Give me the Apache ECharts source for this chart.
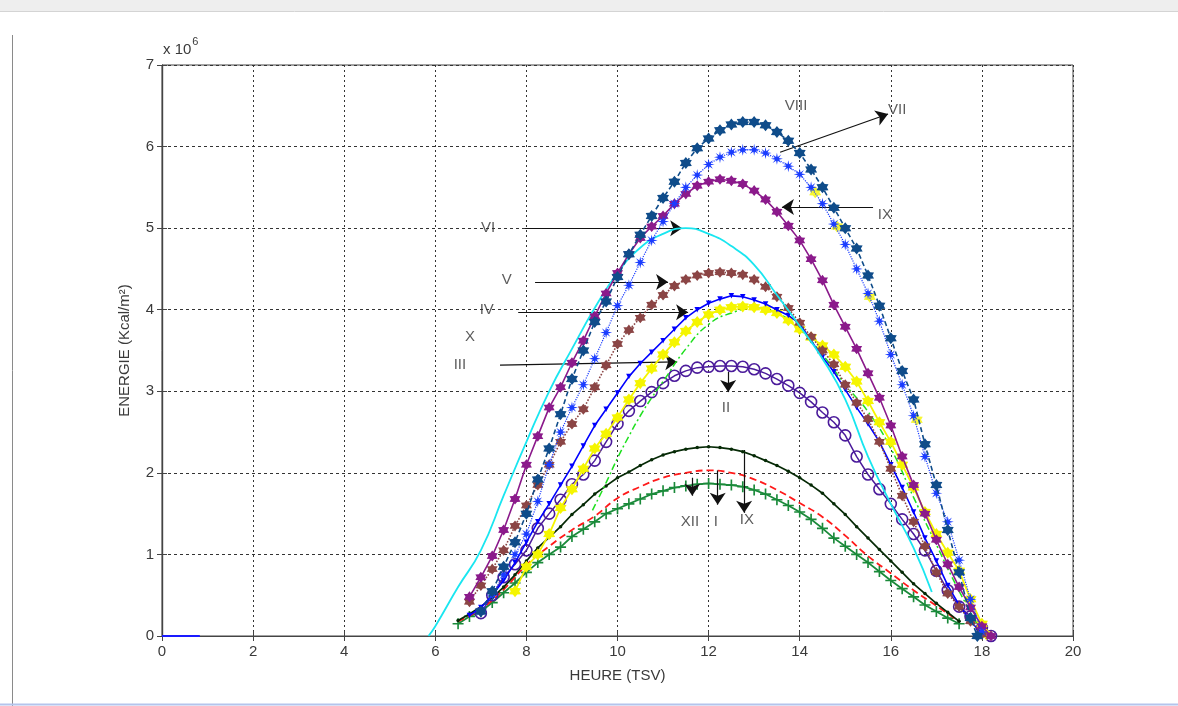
<!DOCTYPE html>
<html>
<head>
<meta charset="utf-8">
<title>ENERGIE</title>
<script src="https://cdn.jsdelivr.net/npm/echarts@6/dist/echarts.min.js"></script>
<style>
  html, body { margin: 0; padding: 0; background: #ffffff; }
  #chart { width: 1178px; height: 706px; }
</style>
</head>
<body>
<div id="chart"></div>
<script>
// Hourly solar energy per month, values in 10^6 Kcal/m², hour in TSV.
const xTicks = [0, 2, 4, 6, 8, 10, 12, 14, 16, 18, 20];
const yTicks = [0, 1, 2, 3, 4, 5, 6, 7];

const moisVII = [[7.0,0.3],[7.25,0.55],[7.5,0.85],[7.75,1.15],[8.0,1.5],[8.25,1.92],[8.5,2.3],[8.75,2.72],[9.0,3.15],[9.25,3.5],[9.5,3.85],[9.75,4.1],[10.0,4.4],[10.25,4.68],[10.5,4.92],[10.75,5.15],[11.0,5.37],[11.25,5.57],[11.5,5.8],[11.75,5.98],[12.0,6.1],[12.25,6.2],[12.5,6.27],[12.75,6.3],[13.0,6.3],[13.25,6.26],[13.5,6.18],[13.75,6.07],[14.0,5.92],[14.25,5.72],[14.5,5.5],[14.75,5.25],[15.0,5.0],[15.25,4.75],[15.5,4.42],[15.75,4.05],[16.0,3.65],[16.25,3.25],[16.5,2.9],[16.75,2.35],[17.0,1.85],[17.25,1.3],[17.5,0.78],[17.75,0.22],[17.9,0.0]];

const moisVIII = [[7.0,0.3],[7.25,0.5],[7.5,0.75],[7.75,1.0],[8.0,1.25],[8.25,1.65],[8.5,2.1],[8.75,2.5],[9.0,2.8],[9.25,3.08],[9.5,3.4],[9.75,3.72],[10.0,4.05],[10.25,4.3],[10.5,4.58],[10.75,4.85],[11.0,5.08],[11.25,5.3],[11.5,5.5],[11.75,5.65],[12.0,5.78],[12.25,5.87],[12.5,5.93],[12.75,5.96],[13.0,5.96],[13.25,5.92],[13.5,5.85],[13.75,5.76],[14.0,5.66],[14.25,5.5],[14.5,5.3],[14.75,5.05],[15.0,4.8],[15.25,4.5],[15.5,4.2],[15.75,3.86],[16.0,3.45],[16.25,3.08],[16.5,2.7],[16.75,2.2],[17.0,1.75],[17.25,1.4],[17.5,0.93],[17.75,0.45],[18.0,0.05]];

const moisIX = [[6.75,0.48],[7.0,0.72],[7.25,0.98],[7.5,1.3],[7.75,1.68],[8.0,2.1],[8.25,2.45],[8.5,2.8],[8.75,3.05],[9.0,3.35],[9.25,3.62],[9.5,3.92],[9.75,4.2],[10.0,4.45],[10.25,4.68],[10.5,4.88],[10.75,5.02],[11.0,5.15],[11.25,5.3],[11.5,5.42],[11.75,5.52],[12.0,5.57],[12.25,5.6],[12.5,5.58],[12.75,5.54],[13.0,5.46],[13.25,5.35],[13.5,5.2],[13.75,5.03],[14.0,4.85],[14.25,4.62],[14.5,4.36],[14.75,4.06],[15.0,3.79],[15.25,3.52],[15.5,3.22],[15.75,2.92],[16.0,2.58],[16.25,2.2],[16.5,1.85],[16.75,1.5],[17.0,1.18],[17.25,0.88],[17.5,0.6],[17.75,0.35],[18.0,0.12],[18.2,0.0]];

const moisVI = [[5.85,0.0],[6.0,0.12],[6.5,0.6],[7.0,1.05],[7.5,1.72],[8.0,2.38],[8.5,3.0],[9.0,3.52],[9.5,4.02],[10.0,4.45],[10.5,4.76],[11.0,4.93],[11.5,5.0],[12.0,4.93],[12.5,4.78],[13.0,4.55],[13.5,4.18],[14.0,3.8],[14.5,3.4],[15.0,2.9],[15.5,2.2],[16.0,1.62],[16.5,1.08],[16.9,0.54]];

const moisV = [[6.75,0.42],[7.0,0.62],[7.25,0.82],[7.5,1.05],[7.75,1.35],[8.0,1.6],[8.25,1.85],[8.5,2.1],[8.75,2.38],[9.0,2.6],[9.25,2.78],[9.5,3.05],[9.75,3.32],[10.0,3.58],[10.25,3.75],[10.5,3.9],[10.75,4.06],[11.0,4.18],[11.25,4.29],[11.5,4.37],[11.75,4.42],[12.0,4.45],[12.25,4.46],[12.5,4.45],[12.75,4.43],[13.0,4.37],[13.25,4.28],[13.5,4.16],[13.75,4.02],[14.0,3.84],[14.25,3.67],[14.5,3.5],[14.75,3.33],[15.0,3.08],[15.25,2.86],[15.5,2.66],[15.75,2.38],[16.0,2.05],[16.25,1.72],[16.5,1.4],[16.75,1.1],[17.0,0.78],[17.25,0.52],[17.5,0.36],[17.75,0.18],[18.0,0.02]];

const moisIV = [[6.75,0.25],[7.0,0.35],[7.25,0.5],[7.5,0.68],[7.75,0.9],[8.0,1.15],[8.25,1.4],[8.5,1.62],[8.75,1.85],[9.0,2.08],[9.25,2.33],[9.5,2.58],[9.75,2.78],[10.0,2.98],[10.25,3.18],[10.5,3.34],[10.75,3.48],[11.0,3.62],[11.25,3.76],[11.5,3.9],[11.75,4.0],[12.0,4.08],[12.25,4.13],[12.5,4.17],[12.75,4.16],[13.0,4.12],[13.25,4.07],[13.5,4.0],[13.75,3.93],[14.0,3.83],[14.25,3.62],[14.5,3.42],[14.75,3.24],[15.0,3.02],[15.25,2.8],[15.5,2.6],[15.75,2.38],[16.0,2.1],[16.25,1.82],[16.5,1.52],[16.75,1.2],[17.0,0.92],[17.25,0.62],[17.5,0.38],[17.75,0.18],[18.0,0.03]];

const moisX = [[7.75,0.55],[8.0,0.85],[8.25,1.0],[8.5,1.25],[8.75,1.57],[9.0,1.8],[9.25,2.05],[9.5,2.3],[9.75,2.48],[10.0,2.68],[10.25,2.9],[10.5,3.1],[10.75,3.28],[11.0,3.45],[11.25,3.6],[11.5,3.74],[11.75,3.85],[12.0,3.94],[12.25,4.0],[12.5,4.03],[12.75,4.04],[13.0,4.03],[13.25,4.0],[13.5,3.96],[13.75,3.87],[14.0,3.76],[14.25,3.66],[14.5,3.56],[14.75,3.45],[15.0,3.3],[15.25,3.12],[15.5,2.88],[15.75,2.62],[16.0,2.38],[16.25,2.1],[16.5,1.82],[16.75,1.52],[17.0,1.25],[17.25,1.02],[17.5,0.8],[17.75,0.45],[18.0,0.15],[18.1,0.02]];

// a few yellow stars that show along the upper curves
const etoilesX = [[14.34,5.44],[14.82,5.02],[15.54,4.16],[16.57,2.65]];

const moisIII = [[9.45,1.54],[9.75,1.88],[10.0,2.18],[10.25,2.45],[10.5,2.7],[10.75,2.92],[11.0,3.12],[11.5,3.52],[12.0,3.82],[12.5,3.96],[13.0,4.02],[13.5,3.96],[14.0,3.76],[14.5,3.45],[15.0,3.08],[15.5,2.75],[16.0,2.3],[16.5,1.7],[17.0,1.12],[17.5,0.55],[18.0,0.05]];

const moisII = [[7.0,0.28],[7.25,0.5],[7.5,0.72],[7.75,0.88],[8.0,1.05],[8.25,1.32],[8.5,1.5],[8.75,1.67],[9.0,1.86],[9.25,1.98],[9.5,2.15],[9.75,2.38],[10.0,2.6],[10.25,2.76],[10.5,2.88],[10.75,2.99],[11.0,3.1],[11.25,3.19],[11.5,3.25],[11.75,3.29],[12.0,3.3],[12.25,3.31],[12.5,3.31],[12.75,3.3],[13.0,3.27],[13.25,3.22],[13.5,3.15],[13.75,3.07],[14.0,2.98],[14.25,2.87],[14.5,2.74],[14.75,2.62],[15.0,2.46],[15.25,2.2],[15.5,1.98],[15.75,1.8],[16.0,1.62],[16.25,1.43],[16.5,1.25],[16.75,1.05],[17.0,0.8],[17.25,0.56],[17.5,0.36],[17.75,0.24],[18.0,0.1],[18.2,0.0]];

const moisXI = [[6.5,0.19],[6.75,0.27],[7.0,0.36],[7.25,0.47],[7.5,0.6],[7.75,0.75],[8.0,0.92],[8.25,1.08],[8.5,1.21],[8.75,1.34],[9.0,1.49],[9.25,1.61],[9.5,1.74],[9.75,1.84],[10.0,1.94],[10.25,2.01],[10.5,2.09],[10.75,2.16],[11.0,2.22],[11.25,2.26],[11.5,2.29],[11.75,2.31],[12.0,2.32],[12.25,2.31],[12.5,2.29],[12.75,2.26],[13.0,2.21],[13.25,2.15],[13.5,2.09],[13.75,2.02],[14.0,1.94],[14.25,1.85],[14.5,1.75],[14.75,1.62],[15.0,1.49],[15.25,1.34],[15.5,1.2],[15.75,1.06],[16.0,0.92],[16.25,0.78],[16.5,0.64],[16.75,0.52],[17.0,0.4],[17.25,0.29],[17.5,0.18]];

const moisI = [[6.5,0.18],[7.0,0.33],[7.5,0.57],[8.0,0.87],[8.5,1.1],[9.0,1.3],[9.5,1.47],[10.0,1.69],[10.5,1.83],[11.0,1.94],[11.5,2.0],[12.0,2.03],[12.5,2.0],[13.0,1.92],[13.5,1.79],[14.0,1.63],[14.5,1.46],[15.0,1.23],[15.5,0.98],[16.0,0.77],[16.5,0.56],[17.0,0.37],[17.5,0.18]];

const moisXII = [[6.5,0.15],[6.75,0.24],[7.0,0.3],[7.25,0.41],[7.5,0.53],[7.75,0.65],[8.0,0.78],[8.25,0.9],[8.5,1.0],[8.75,1.09],[9.0,1.22],[9.25,1.31],[9.5,1.4],[9.75,1.5],[10.0,1.56],[10.25,1.62],[10.5,1.68],[10.75,1.74],[11.0,1.78],[11.25,1.82],[11.5,1.84],[11.75,1.86],[12.0,1.87],[12.25,1.86],[12.5,1.85],[12.75,1.83],[13.0,1.79],[13.25,1.74],[13.5,1.67],[13.75,1.6],[14.0,1.52],[14.25,1.43],[14.5,1.32],[14.75,1.2],[15.0,1.1],[15.25,1.0],[15.5,0.9],[15.75,0.79],[16.0,0.68],[16.25,0.58],[16.5,0.48],[16.75,0.38],[17.0,0.3],[17.25,0.22],[17.5,0.15]];

const nuit = [[0, 0], [0.83, 0]];

// annotation arrows: start and end points in (hour, energy)
const flecheDebut = [[7.97,5.0],[8.19,4.34],[7.82,3.97],[7.42,3.32],[13.57,5.93],[15.61,5.26],[12.43,3.24],[11.64,1.94],[12.2,2.03],[12.78,2.28]];
const flecheFin   = [[11.42,5.0],[11.11,4.34],[11.55,3.97],[11.31,3.36],[15.94,6.40],[13.61,5.26],[12.43,2.99],[11.64,1.72],[12.2,1.61],[12.78,1.51]];

// month labels and their positions
const etiquettes = ['VI', 'V', 'IV', 'X', 'III', 'VIII', 'VII', 'IX', 'II', 'XII', 'I', 'IX'];
const etiquettesPos = [[7.16,5.0],[7.57,4.36],[7.13,4.0],[6.76,3.67],[6.54,3.33],[13.92,6.5],[16.14,6.45],[15.87,5.16],[12.38,2.8],[11.59,1.4],[12.16,1.4],[12.84,1.42]];

const HEX = 'path://M0,-10 L3.2,-5.4 L8.66,-5 L6.2,0 L8.66,5 L3.2,5.4 L0,10 L-3.2,5.4 L-8.66,5 L-6.2,0 L-8.66,-5 L-3.2,-5.4 Z';
const ASTER = 'path://M0,-10 L1.4,-3.2 L7.1,-7.1 L3.2,-1.4 L10,0 L3.2,1.4 L7.1,7.1 L1.4,3.2 L0,10 L-1.4,3.2 L-7.1,7.1 L-3.2,1.4 L-10,0 L-3.2,-1.4 L-7.1,-7.1 L-1.4,-3.2 Z';
const PLUS = 'path://M-1.5,-10 L1.5,-10 L1.5,-1.5 L10,-1.5 L10,1.5 L1.5,1.5 L1.5,10 L-1.5,10 L-1.5,1.5 L-10,1.5 L-10,-1.5 L-1.5,-1.5 Z';

const FONT = 'Liberation Sans';
const AXC = '#3a3a3a';

function courbe(name, data, color, opts) {
  opts = opts || {};
  return {
    name: name,
    type: 'line',
    data: data,
    smooth: opts.smooth || false,
    symbol: opts.symbol || 'none',
    symbolSize: opts.size || 8,
    symbolRotate: opts.rotate || 0,
    showSymbol: !!opts.symbol,
    lineStyle: { color: opts.lineColor || color, width: opts.width || 1.5, type: opts.type || 'solid' },
    itemStyle: {
      color: opts.fill || color,
      borderColor: color,
      borderWidth: opts.border || 0
    },
    z: opts.z || 2,
    silent: true,
    animation: false
  };
}

const chart = echarts.init(document.getElementById('chart'), null, { renderer: 'canvas' });

const grid = { left: 162, right: 105, top: 65, bottom: 70, show: true, borderColor: '#444', borderWidth: 1, backgroundColor: '#fff' };

const option = {
  backgroundColor: '#ffffff',
  animation: false,
  textStyle: { fontFamily: FONT },
  grid: grid,
  xAxis: [{
    type: 'value', min: xTicks[0], max: xTicks[xTicks.length - 1], interval: 2,
    name: 'HEURE (TSV)', nameLocation: 'middle', nameGap: 32,
    nameTextStyle: { color: AXC, fontSize: 15, fontFamily: FONT },
    axisLine: { show: true, lineStyle: { color: '#444', width: 1.2 } },
    axisTick: { show: true, inside: true, length: 5, lineStyle: { color: '#444' } },
    axisLabel: { color: AXC, fontSize: 15, fontFamily: FONT, margin: 8 },
    splitLine: { show: true, lineStyle: { color: '#333', width: 1, type: [2, 3] } }
  }, {
    type: 'value', position: 'top', min: xTicks[0], max: xTicks[xTicks.length - 1], interval: 2,
    axisLine: { show: true, lineStyle: { color: '#444', width: 1.2 } },
    axisTick: { show: true, inside: true, length: 5, lineStyle: { color: '#444' } },
    axisLabel: { show: false }, splitLine: { show: false }
  }],
  yAxis: [{
    type: 'value', min: yTicks[0], max: yTicks[yTicks.length - 1], interval: 1,
    name: 'ENERGIE (Kcal/m²)', nameLocation: 'middle', nameGap: 30, nameRotate: 90,
    nameTextStyle: { color: AXC, fontSize: 15, fontFamily: FONT },
    axisLine: { show: true, lineStyle: { color: '#444', width: 1.2 } },
    axisTick: { show: true, inside: true, length: 5, lineStyle: { color: '#444' } },
    axisLabel: { color: AXC, fontSize: 15, fontFamily: FONT, margin: 8 },
    splitLine: { show: true, lineStyle: { color: '#333', width: 1, type: [3, 3] } }
  }, {
    type: 'value', position: 'right', min: yTicks[0], max: yTicks[yTicks.length - 1], interval: 1,
    axisLine: { show: true, lineStyle: { color: '#444', width: 1.2 } },
    axisTick: { show: true, inside: true, length: 5, lineStyle: { color: '#444' } },
    axisLabel: { show: false }, splitLine: { show: false }
  }],
  graphic: [
    { type: 'rect', shape: { x: 0, y: 0, width: 1178, height: 11 }, style: { fill: '#eeeeee' }, silent: true },
    { type: 'line', shape: { x1: 0, y1: 11.5, x2: 1178, y2: 11.5 }, style: { stroke: '#d4d4d4', lineWidth: 1 }, silent: true },
    { type: 'line', shape: { x1: 12.5, y1: 35, x2: 12.5, y2: 706 }, style: { stroke: '#8a8a8a', lineWidth: 1 }, silent: true },
    { type: 'line', shape: { x1: 0, y1: 704.5, x2: 1178, y2: 704.5 }, style: { stroke: '#b4c4ec', lineWidth: 2 }, silent: true },
    {
      type: 'text', left: 163, top: 36, silent: true,
      style: {
        text: '{a|x 10}{b|6}',
        rich: {
          a: { fontSize: 15, fill: AXC, fontFamily: FONT, padding: [6, 0, 0, 0] },
          b: { fontSize: 11, fill: AXC, fontFamily: FONT, verticalAlign: 'top', padding: [0, 0, 0, 1] }
        }
      }
    }
  ],
  series: [
    courbe('nuit', nuit, '#1a1aff', { width: 2 }),
    courbe('XII', moisXII, '#1a8a3a', { symbol: PLUS, size: 11, width: 1.8, z: 3 }),
    courbe('I', moisI, '#ff1a1a', { type: [7, 4], smooth: true, width: 1.8, z: 4 }),
    courbe('XI', moisXI, '#062a06', { symbol: 'circle', size: 3.5, width: 1.7, z: 5 }),
    courbe('II', moisII, '#4b1b9b', { symbol: 'circle', size: 11, fill: 'rgba(0,0,0,0)', border: 1.6, width: 1.5, z: 6 }),
    courbe('III', moisIII, '#1ee01e', { type: [7, 3, 2, 3], smooth: true, width: 1.5, z: 7 }),
    courbe('X', moisX, '#f5f500', { symbol: HEX, size: 12, width: 1.8, z: 8 }),
    {
      name: 'X-etoiles', type: 'scatter', data: etoilesX, symbol: HEX, symbolSize: 12,
      itemStyle: { color: '#f5f500' }, z: 8, silent: true, animation: false
    },
    courbe('IV', moisIV, '#0000ff', { symbol: 'triangle', rotate: 180, size: 5.5, width: 1.6, z: 9 }),
    courbe('V', moisV, '#8b4545', { symbol: HEX, size: 11, type: 'dotted', width: 1.6, z: 10 }),
    courbe('VI', moisVI, '#19e6f0', { smooth: true, width: 1.8, z: 11 }),
    courbe('IX', moisIX, '#8b1a8b', { symbol: HEX, size: 11, width: 1.6, z: 12 }),
    courbe('VIII', moisVIII, '#1a3cff', { symbol: ASTER, size: 12, type: 'dotted', width: 1.2, z: 13 }),
    courbe('VII', moisVII, '#0f4c8a', { symbol: HEX, size: 12, type: [5, 3], width: 1.6, z: 14 }),
    {
      name: 'fleches', type: 'line', data: [], z: 20, silent: true, animation: false,
      markLine: {
        silent: true, animation: false,
        symbol: ['none', 'arrow'], symbolSize: 12,
        label: { show: false },
        lineStyle: { color: '#111', width: 1.2, type: 'solid' },
        data: flecheDebut.map((p, i) => [{ coord: p }, { coord: flecheFin[i] }])
      }
    },
    {
      name: 'etiquettes', type: 'scatter', z: 21, silent: true, animation: false,
      symbolSize: 1, itemStyle: { color: 'rgba(0,0,0,0)' },
      data: etiquettes.map((t, i) => ({ name: t, value: etiquettesPos[i] })),
      label: { show: true, position: 'inside', formatter: '{b}', color: '#333', fontSize: 15, fontFamily: FONT }
    }
  ]
};

chart.setOption(option);
</script>
</body>
</html>
